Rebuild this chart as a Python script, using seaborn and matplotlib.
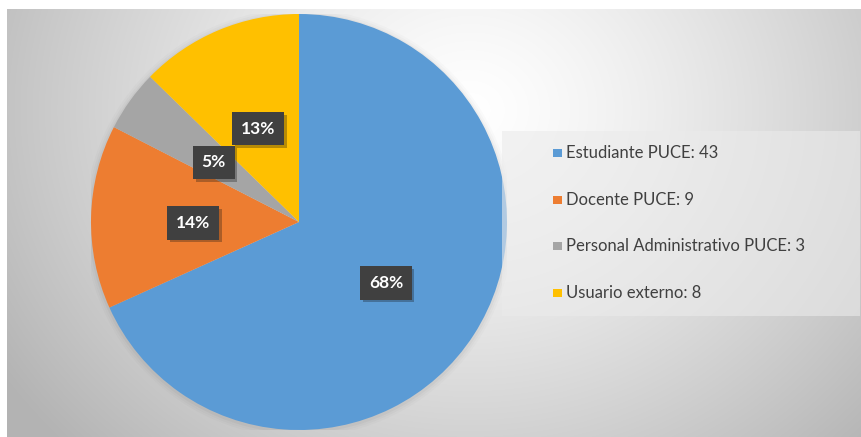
import numpy as np
import matplotlib
matplotlib.use("Agg")
import matplotlib.pyplot as plt
import matplotlib.patches as mpatches
import matplotlib.patheffects as pe
import seaborn as sns

# ---- data ----
categories = ["Estudiante PUCE", "Docente PUCE", "Personal Administrativo PUCE", "Usuario externo"]
counts = [43, 9, 3, 8]
colors = ["#5B9BD5", "#ED7D31", "#A5A5A5", "#FFC000"]

sns.set_theme(style="white")
plt.rcParams["font.family"] = ["Lato", "DejaVu Sans"]

W, H = 862, 437
fig = plt.figure(figsize=(W / 100, H / 100), dpi=100)
fig.patch.set_facecolor("white")

# ---- background gradient ----
bg = fig.add_axes([7 / W, 0, 1 - 7 / W, 1 - 9 / H])
bg.set_axis_off()
yy, xx = np.mgrid[9:437, 7:862]
cx, cy = 470, 110
d = np.sqrt((xx - cx) ** 2 + ((yy - cy) * 1.15) ** 2)
g = 255 - 62 * np.clip(d / 480, 0, 1.2) ** 1.3
g = np.clip(g, 180, 255) / 255.0
img = np.dstack([g, g, g])
bg.imshow(img, aspect="auto", extent=[0, 1, 0, 1], origin="upper")
bg.set_xlim(0, 1)
bg.set_ylim(0, 1)

# ---- pie ----
pcx, pcy, R = 299, 222, 208
ax = fig.add_axes([(pcx - R) / W, (H - pcy - R) / H, 2 * R / W, 2 * R / H])
ax.set_axis_off()
pal = sns.color_palette(colors)

# soft shadow
for k, a in zip([1.03, 1.02, 1.01], [0.015, 0.02, 0.03]):
    ax.add_patch(mpatches.Circle((0.0, -0.005), k, color="black", alpha=a, lw=0))

wedges, _ = ax.pie(counts, colors=pal, startangle=90, counterclock=False, radius=1,
                   wedgeprops=dict(linewidth=0))
ax.set_xlim(-1, 1)
ax.set_ylim(-1, 1)

# label placement (angle in degrees, radius fraction)
label_angles = [-35, 180.5, 145, 113.6]
label_radii = [0.51, 0.51, 0.50, 0.49]
total = sum(counts)
for v, ang, rr in zip(counts, label_angles, label_radii):
    x = rr * np.cos(np.radians(ang))
    y = rr * np.sin(np.radians(ang))
    ax.text(x, y, f"{round(100 * v / total)}%", ha="center", va="center",
            color="white", fontsize=12.5, fontweight="bold",
            bbox=dict(boxstyle="square,pad=0.5", fc="#404040", ec="none",
                      path_effects=[pe.SimplePatchShadow(offset=(2, -2), alpha=0.3),
                                    pe.Normal()]))

# ---- legend ----
lx0, ly0, lx1, ly1 = 502, 131, 860, 316
fig.patches.append(mpatches.Rectangle((lx0 / W, 1 - ly1 / H), (lx1 - lx0) / W, (ly1 - ly0) / H,
                                      transform=fig.transFigure, fc="#ebebeb", ec="none",
                                      alpha=0.6, zorder=5))
rows_y = [153, 200, 246, 293]
for cat, n, col, ry in zip(categories, counts, pal, rows_y):
    fig.patches.append(mpatches.Rectangle((553 / W, 1 - (ry + 4) / H), 9 / W, 8 / H,
                                          transform=fig.transFigure, fc=col, ec="none", zorder=6))
    fig.text(566 / W, 1 - ry / H, f"{cat}: {n}", ha="left", va="center",
             fontsize=12, color="#404040", zorder=7)

fig.savefig("out.png", dpi=100)
